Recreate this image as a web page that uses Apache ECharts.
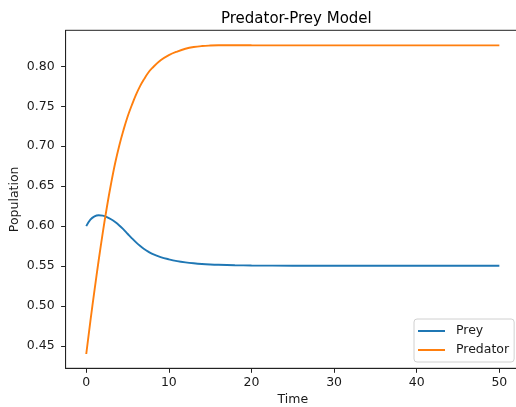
<!DOCTYPE html>
<html>
<head>
<meta charset="utf-8">
<script src="https://cdn.jsdelivr.net/npm/echarts@6/dist/echarts.min.js"></script>
<style>
  html, body { margin: 0; padding: 0; background: #fff; }
  #main { width: 516px; height: 407px; }
</style>
</head>
<body>
<div id="main"></div>
<script>
// values
var times = [0, 0.5, 1, 1.5, 2, 2.5, 3, 3.5, 4, 4.5, 5, 5.5, 6, 6.5, 7, 7.5, 8,
             9, 10, 11, 12, 13, 14, 15, 16, 18, 20, 25, 30, 35, 40, 45, 50];
var prey = [0.600, 0.6082, 0.6123, 0.6137, 0.6132, 0.6114, 0.6087, 0.6052, 0.6009, 0.5959,
            0.5905, 0.5851, 0.5800, 0.5754, 0.5714, 0.5681, 0.5653,
            0.5613, 0.5585, 0.5563, 0.5547, 0.5535, 0.5526, 0.552, 0.5516, 0.5511, 0.5508,
            0.5505, 0.5505, 0.5505, 0.5505, 0.5505, 0.5505];
var predator = [0.440, 0.481, 0.520, 0.557, 0.592, 0.624, 0.653, 0.679, 0.701, 0.720,
                0.737, 0.751, 0.764, 0.775, 0.784, 0.792, 0.798,
                0.8075, 0.814, 0.8185, 0.822, 0.8242, 0.8254, 0.826, 0.8263, 0.8265, 0.8264,
                0.8262, 0.8262, 0.8262, 0.8262, 0.8262, 0.8262];
var xTicks = [0, 10, 20, 30, 40, 50];
var yTicks = [0.45, 0.50, 0.55, 0.60, 0.65, 0.70, 0.75, 0.80];

function pairs(ys) {
    return times.map(function (t, i) { return [t, ys[i]]; });
}

var myChart = echarts.init(document.getElementById('main'));
var font = 'DejaVu Sans';
var ink = '#1a1a1a';

var option = {
    animation: false,
    title: {
        text: 'Predator-Prey Model',
        left: 216,
        top: 7,
        textStyle: { fontFamily: font, fontSize: 15, fontWeight: 'normal', color: '#000' }
    },
    legend: {
        data: ['Prey', 'Predator'],
        orient: 'vertical',
        left: 414,
        top: 319,
        padding: [5, 5, 5, 4],
        itemGap: 5,
        itemWidth: 27,
        itemHeight: 2,
        icon: 'rect',
        backgroundColor: 'rgba(255,255,255,0.8)',
        borderColor: '#d0d0d0',
        borderWidth: 1,
        borderRadius: 3,
        textStyle: { fontFamily: font, fontSize: 12.5, color: ink, lineHeight: 14, padding: [0, 0, 0, 6] }
    },
    grid: {
        show: true,
        left: 65.6,
        top: 30.3,
        width: 454.4,
        height: 338,
        outerBoundsMode: 'none',
        containLabel: false,
        borderColor: '#222',
        borderWidth: 1,
        backgroundColor: 'transparent'
    },
    xAxis: {
        type: 'value',
        min: -2.5,
        max: 52.5,
        name: 'Time',
        nameLocation: 'middle',
        nameGap: 25,
        nameMoveOverlap: false,
        nameTextStyle: { fontFamily: font, fontSize: 12.5, color: ink },
        axisLine: { show: true, onZero: false, lineStyle: { color: '#222', width: 1 } },
        axisTick: { show: true, length: 4.5, customValues: xTicks, lineStyle: { color: '#222' } },
        axisLabel: {
            customValues: xTicks, margin: 8,
            fontFamily: font, fontSize: 12.5, color: ink
        },
        splitLine: { show: false }
    },
    yAxis: {
        type: 'value',
        min: 0.4221,
        max: 0.8451,
        name: 'Population',
        nameLocation: 'middle',
        nameGap: 44,
        nameMoveOverlap: false,
        nameTextStyle: { fontFamily: font, fontSize: 12.5, color: ink },
        axisLine: { show: true, onZero: false, lineStyle: { color: '#222', width: 1 } },
        axisTick: { show: true, length: 4.5, customValues: yTicks, lineStyle: { color: '#222' } },
        axisLabel: {
            customValues: yTicks, margin: 11,
            fontFamily: font, fontSize: 12.5, color: ink,
            formatter: function (v) { return v.toFixed(2); }
        },
        splitLine: { show: false }
    },
    series: [
        {
            name: 'Prey',
            type: 'line',
            data: pairs(prey),
            smooth: 0.4,
            showSymbol: false,
            color: '#1f77b4',
            lineStyle: { width: 1.9, color: '#1f77b4' }
        },
        {
            name: 'Predator',
            type: 'line',
            data: pairs(predator),
            smooth: 0.4,
            showSymbol: false,
            color: '#ff7f0e',
            lineStyle: { width: 1.9, color: '#ff7f0e' }
        }
    ]
};

myChart.setOption(option);
</script>
</body>
</html>
